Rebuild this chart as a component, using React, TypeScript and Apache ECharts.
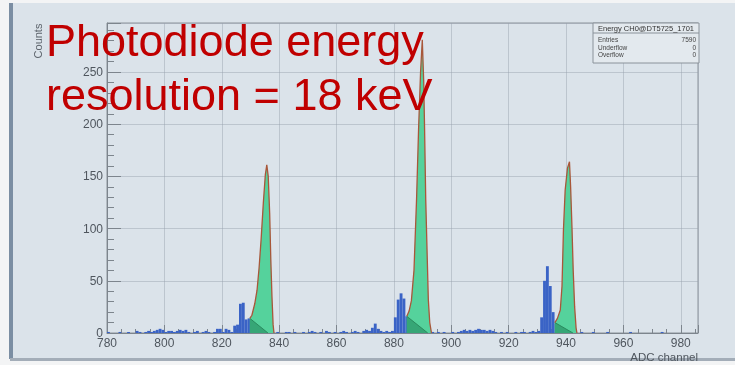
import React, { useEffect, useRef } from "react";
import * as echarts from "echarts";

// Histogram: one bin per ADC channel, starting at channel 780
const binStart = 780;
const counts = [
  1, 0, 0, 0, 1, 0, 0, 1, 0, 0,
  2, 1, 0, 1, 2, 1, 2, 3, 4, 3,
  1, 2, 2, 1, 2, 3, 2, 3, 1, 0,
  1, 2, 0, 1, 2, 1, 0, 1, 4, 4,
  1, 4, 3, 1, 7, 8, 28, 29, 13, 14,
  13, 20, 35, 60, 100, 140, 80, 5, 0, 1,
  0, 0, 1, 1, 0, 1, 0, 0, 1, 0,
  1, 2, 1, 0, 1, 0, 2, 1, 0, 1,
  0, 1, 2, 1, 0, 1, 2, 1, 0, 2,
  3, 2, 5, 9, 4, 2, 1, 2, 1, 2,
  15, 32, 38, 33, 16, 18, 28, 50, 120, 210,
  140, 25, 0, 1, 0, 1, 0, 1, 0, 0,
  1, 0, 1, 2, 3, 2, 3, 2, 3, 4,
  3, 3, 2, 3, 2, 1, 0, 1, 0, 1,
  0, 0, 1, 0, 1, 1, 0, 1, 2, 1,
  2, 15, 50, 64, 45, 20, 9, 13, 20, 80,
  130, 70, 20, 0, 0, 1, 0, 0, 0, 1,
  0, 0, 0, 0, 1, 0, 0, 0, 0, 0,
  0, 0, 1, 0, 0, 0, 0, 0, 0, 0,
  0, 0, 0, 1, 0, 0, 0, 0, 0, 0,
  0, 0, 0, 0, 0, 0,
];

// Fitted peaks (channel, counts)
const fit1 = [
  [829.8, 14], [830.5, 17], [831.5, 28], [832.3, 41], [833, 62], [833.7, 89],
  [834.5, 125], [835.2, 152], [835.7, 161], [836.2, 150], [836.7, 115],
  [837.1, 70], [837.5, 35], [837.9, 8], [838.2, 0],
];
const fit2 = [
  [884.5, 16], [885.3, 21], [886.1, 31], [887, 60], [887.9, 128], [888.6, 195],
  [889.3, 250], [889.9, 281], [890.4, 240], [890.7, 195], [891.1, 128],
  [892, 32], [892.5, 10], [893.1, 0],
];
const fit3 = [
  [936.1, 10], [937, 14], [938, 22], [938.6, 45], [939.1, 99], [939.7, 137],
  [940.5, 158], [941.2, 164], [941.6, 140], [942.1, 99], [942.5, 60],
  [943, 25], [943.5, 5], [943.8, 0],
];
// Linear background under each fit
const bg1 = [[829.8, 14], [836.1, 0]];
const bg2 = [[884.5, 16], [891.8, 0]];
const bg3 = [[936.1, 10], [942.4, 0]];

const xTicks = [780, 800, 820, 840, 860, 880, 900, 920, 940, 960, 980];
const yTicks = [0, 50, 100, 150, 200, 250];

const statsTitle = "Energy CH0@DT5725_1701";
const statsLabels = ["Entries", "Underflow", "Overflow"];
const statsValues = ["7590", "0", "0"];

const BLUE = "#3a63c6";
const GREEN = "#55d29c";
const DARKGREEN = "#36a676";
const BROWN = "#a8573a";
const FONT = "Liberation Sans, Arial, sans-serif";

export default function App() {
  const ref = useRef<HTMLDivElement>(null);
  useEffect(() => {
    if (!ref.current) return;
    const chart = echarts.init(ref.current, null, { renderer: "svg" });

    const fitArea = (d: number[][]) => ({
      type: "line",
      data: d,
      showSymbol: false,
      symbol: "none",
      lineStyle: { width: 0 },
      areaStyle: { color: GREEN, opacity: 1 },
      silent: true,
      z: 3,
    });
    const bgArea = (d: number[][]) => ({
      type: "line",
      data: d,
      showSymbol: false,
      symbol: "none",
      lineStyle: { width: 1, color: "#2a8a5e" },
      areaStyle: { color: DARKGREEN, opacity: 1 },
      silent: true,
      z: 4,
    });
    const fitLine = (d: number[][]) => ({
      type: "line",
      data: d,
      showSymbol: false,
      symbol: "none",
      lineStyle: { width: 1.3, color: BROWN },
      silent: true,
      z: 5,
    });

    const rows: any[] = [];
    statsLabels.forEach((l, i) => {
      rows.push({
        type: "text",
        left: 598,
        top: 36 + i * 7.5,
        style: { text: l, fontSize: 6.5, fill: "#444", fontFamily: FONT },
      });
      rows.push({
        type: "text",
        right: 39,
        top: 36 + i * 7.5,
        style: { text: statsValues[i], fontSize: 6.5, fill: "#444", fontFamily: FONT, textAlign: "right" },
      });
    });

    chart.setOption({
      animation: false,
      backgroundColor: "transparent",
      grid: {
        left: 107,
        top: 23,
        right: 37,
        bottom: 32,
        show: true,
        borderColor: "#8a929a",
        borderWidth: 1,
        backgroundColor: "transparent",
      },
      xAxis: {
        type: "value",
        min: 780,
        max: 986,
        interval: 20,
        axisLine: { show: true, lineStyle: { color: "#7d858d" } },
        axisTick: { show: true, inside: true, length: 8, lineStyle: { color: "#7d858d" } },
        minorTick: { show: true, splitNumber: 4, length: 4, lineStyle: { color: "#7d858d" } },
        splitLine: { show: true, lineStyle: { color: "rgba(150,160,172,0.45)", width: 1 } },
        axisLabel: {
          color: "#4f565e",
          fontSize: 12,
          fontFamily: FONT,
          margin: 4,
          formatter: (v: number) => (xTicks.includes(v) ? String(v) : ""),
        },
      },
      yAxis: {
        type: "value",
        min: 0,
        max: 297,
        interval: 50,
        axisLine: { show: true, lineStyle: { color: "#7d858d" } },
        axisTick: { show: true, inside: true, length: 14, lineStyle: { color: "#7d858d" } },
        minorTick: { show: true, splitNumber: 5, length: 7, lineStyle: { color: "#7d858d" } },
        splitLine: { show: true, lineStyle: { color: "rgba(150,160,172,0.45)", width: 1 } },
        axisLabel: {
          color: "#4f565e",
          fontSize: 12,
          fontFamily: FONT,
          margin: 4,
          formatter: (v: number) => (yTicks.includes(v) ? String(v) : ""),
        },
      },
      series: [
        {
          type: "custom",
          clip: true,
          data: counts.map((c, i) => [binStart + i, c]),
          encode: { x: 0, y: 1 },
          renderItem: (params: any, api: any) => {
            const x0 = api.value(0);
            const y = api.value(1);
            const p0 = api.coord([x0, y]);
            const p1 = api.coord([x0 + 1, 0]);
            return {
              type: "rect",
              shape: { x: p0[0], y: p0[1], width: p1[0] - p0[0], height: p1[1] - p0[1] },
              style: { fill: BLUE },
            };
          },
          z: 2,
        },
        fitArea(fit1),
        fitArea(fit2),
        fitArea(fit3),
        bgArea(bg1),
        bgArea(bg2),
        bgArea(bg3),
        fitLine(fit1),
        fitLine(fit2),
        fitLine(fit3),
      ],
      graphic: [
        { type: "rect", z: -10, shape: { x: 0, y: 0, width: 735, height: 365 }, style: { fill: "#f3f4f5" } },
        { type: "rect", z: -9, shape: { x: 10, y: 3, width: 725, height: 356 }, style: { fill: "#dbe3ea" } },
        { type: "rect", z: -8, shape: { x: 9, y: 3, width: 4, height: 356 }, style: { fill: "#7b8ea3" } },
        { type: "rect", z: -8, shape: { x: 10, y: 358, width: 725, height: 3 }, style: { fill: "#a3adb8" } },
        {
          type: "rect",
          z: 10,
          shape: { x: 593, y: 23, width: 106, height: 40 },
          style: { fill: "#e3e9ee", stroke: "#8a929a", lineWidth: 1 },
        },
        {
          type: "line",
          z: 11,
          shape: { x1: 593, y1: 33, x2: 699, y2: 33 },
          style: { stroke: "#8a929a", lineWidth: 1 },
        },
        {
          type: "text",
          z: 11,
          x: 646,
          y: 28.5,
          style: {
            text: statsTitle,
            fontSize: 7.5,
            fill: "#333",
            fontFamily: FONT,
            textAlign: "center",
            textVerticalAlign: "middle",
          },
        },
        ...rows.map((r) => ({ ...r, z: 11 })),
        {
          type: "text",
          z: 12,
          x: 38,
          y: 41,
          rotation: Math.PI / 2,
          style: {
            text: "Counts",
            fontSize: 11,
            fill: "#5d646c",
            fontFamily: FONT,
            textAlign: "center",
            textVerticalAlign: "middle",
          },
        },
        {
          type: "text",
          z: 12,
          x: 698,
          y: 357,
          style: {
            text: "ADC channel",
            fontSize: 11.5,
            fill: "#4f565e",
            fontFamily: FONT,
            textAlign: "right",
            textVerticalAlign: "middle",
          },
        },
        {
          type: "text",
          z: 20,
          x: 46,
          y: 40,
          style: {
            text: "Photodiode energy",
            fontSize: 45,
            fill: "#c00000",
            fontFamily: FONT,
            textAlign: "left",
            textVerticalAlign: "middle",
          },
        },
        {
          type: "text",
          z: 20,
          x: 46,
          y: 94.5,
          style: {
            text: "resolution = 18 keV",
            fontSize: 45,
            fill: "#c00000",
            fontFamily: FONT,
            textAlign: "left",
            textVerticalAlign: "middle",
          },
        },
      ],
    });
    return () => chart.dispose();
  }, []);
  return (
    <div
      ref={ref}
      style={{ position: "fixed", left: 0, top: 0, width: 735, height: 365 }}
    />
  );
}
